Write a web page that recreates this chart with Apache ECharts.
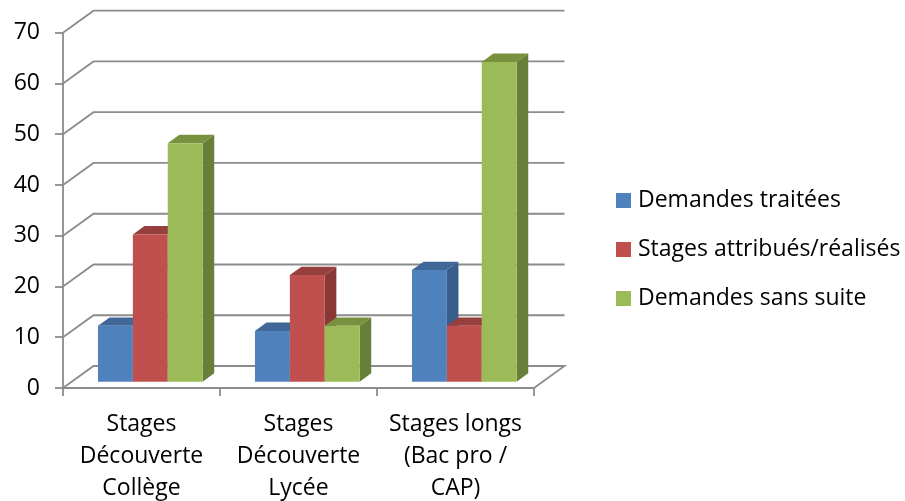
<!DOCTYPE html>
<html><head><meta charset="utf-8">
<style>html,body{margin:0;padding:0;background:#fff}#c{width:905px;height:501px}</style>
<script src="https://cdn.jsdelivr.net/npm/echarts@6/dist/echarts.min.js"></script>
</head><body><div id="c"></div>
<script>
const categories = ["Stages\nDécouverte\nCollège", "Stages\nDécouverte\nLycée", "Stages longs\n(Bac pro /\nCAP)"];
const demandesTraitees = [11, 10, 22];
const stagesAttribues = [29, 21, 11];
const demandesSansSuite = [47, 11, 63];
const yTicks = [0, 10, 20, 30, 40, 50, 60, 70];

const FONT = '"Open Sans"';
const FS = 23;
const GRID = '#8c8c8c';
const LW = 1.8;
const WALL = [30.5, -22];     // depth of the back wall
const BAR_OFF = [8.8, -6.3];  // bars stand inside the depth
const BAR_D = [11.6, -8.4];   // depth of a bar

function barRenderer(seriesIndex, front, side, top) {
  return function (params, api) {
    const i = api.value(0), v = api.value(1);
    const band = api.size([1, 0])[0];
    const w = band / 4.5;
    const c0 = api.coord([i, 0]), c1 = api.coord([i, v]);
    const x0 = c0[0] + BAR_OFF[0] + (seriesIndex - 1.5) * w;
    const x1 = x0 + w;
    const yb = c0[1] + BAR_OFF[1], yt = c1[1] + BAR_OFF[1];
    const dx = BAR_D[0], dy = BAR_D[1];
    return { type: 'group', children: [
      { type: 'polygon', shape: { points: [[x1, yb], [x1 + dx, yb + dy], [x1 + dx, yt + dy], [x1, yt]] }, style: { fill: side } },
      { type: 'polygon', shape: { points: [[x0, yt], [x0 + dx, yt + dy], [x1 + dx, yt + dy], [x1, yt]] }, style: { fill: top } },
      { type: 'rect', shape: { x: x0, y: yt, width: w, height: yb - yt }, style: { fill: front } }
    ] };
  };
}

function gridRenderer(params, api) {
  const v = api.value(0);
  const cs = params.coordSys;
  const y = api.coord([0, v])[1];
  const xl = cs.x, xr = cs.x + cs.width;
  const pts = [[xl, y], [xl + WALL[0], y + WALL[1]], [xr + WALL[0], y + WALL[1]]];
  if (v === 0) pts.push([xr, y]);
  return { type: 'polyline', shape: { points: pts }, style: { fill: 'none', stroke: GRID, lineWidth: LW } };
}

const chart = echarts.init(document.getElementById('c'), null, { renderer: 'canvas' });
const mkBar = (name, idx, data, front, side, top) => ({
  name, type: 'custom', z: 3 + idx, clip: false, silent: true,
  itemStyle: { color: front },
  encode: { x: 0, y: 1 },
  data: data.map((v, i) => [i, v]),
  renderItem: barRenderer(idx, front, side, top)
});
chart.setOption({
  animation: false,
  backgroundColor: '#fff',
  grid: { left: 63, right: 371, top: 32.7, bottom: 113, containLabel: false, outerBoundsMode: 'none' },
  xAxis: {
    type: 'category', data: categories,
    axisLine: { lineStyle: { color: GRID, width: LW } },
    axisTick: { show: true, length: 8, alignWithLabel: false, lineStyle: { color: GRID, width: LW } },
    axisLabel: { fontFamily: FONT, fontSize: FS, color: '#000', lineHeight: 32, margin: 20.5, interval: 0 }
  },
  yAxis: {
    type: 'value', min: 0, max: 70, interval: 10,
    axisLine: { show: true, lineStyle: { color: GRID, width: LW } },
    axisTick: { show: true, length: 8, lineStyle: { color: GRID, width: LW } },
    splitLine: { show: false },
    axisLabel: { fontFamily: FONT, fontSize: FS, color: '#000', margin: 23, padding: [2, 0, 0, 0] }
  },
  legend: {
    orient: 'vertical', left: 616, top: 189, icon: 'rect',
    itemWidth: 15, itemHeight: 15, itemGap: 26,
    data: ['Demandes traitées', 'Stages attribués/réalisés', 'Demandes sans suite'],
    textStyle: { fontFamily: FONT, fontSize: FS, color: '#000', lineHeight: 15, padding: [0, 0, 0, 2] },
    padding: 0, selectedMode: false
  },
  series: [
    { type: 'custom', name: 'grille', z: 1, clip: false, silent: true, encode: { y: 0 }, data: yTicks.map(v => [v]), renderItem: gridRenderer },
    mkBar('Demandes traitées', 0, demandesTraitees, '#4F81BD', '#385D8A', '#3F6797'),
    mkBar('Stages attribués/réalisés', 1, stagesAttribues, '#C0504D', '#8A3836', '#973F3D'),
    mkBar('Demandes sans suite', 2, demandesSansSuite, '#9BBB59', '#687F3A', '#78913F')
  ]
});
</script></body></html>
